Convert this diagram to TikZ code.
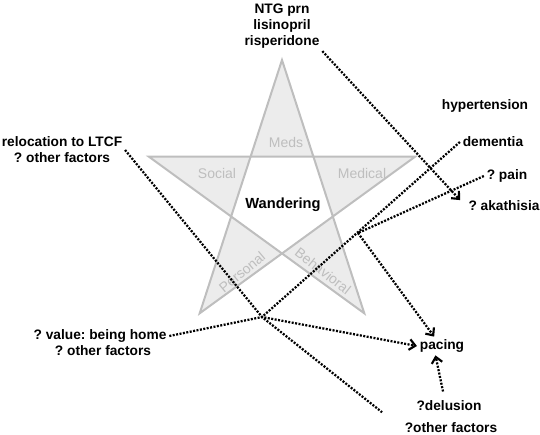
\documentclass[tikz,border=0pt]{standalone}
\usepackage{fontspec}
\setmainfont{Liberation Sans}
\usetikzlibrary{arrows.meta}
\definecolor{starfill}{HTML}{ECECEC}
\definecolor{starline}{HTML}{BEBEBE}
\frenchspacing
\begin{document}
\begin{tikzpicture}[x=0.75pt,y=-0.75pt,
    factor/.style={font=\bfseries\fontsize{10.3}{12}\selectfont,inner sep=2pt},
    part/.style={text=starline,font=\fontsize{10.5}{12}\selectfont},
    link/.style={line width=1.7pt,dash pattern=on 1.5pt off 1.1pt},
    cause/.style={link,-{Straight Barb[length=4.5pt,width=8pt,line width=1.6pt]}}]
  \useasboundingbox (0,0) rectangle (540,435);
  % the star
  \draw[starline,fill=starfill,line width=1.5pt,even odd rule]
    (282,60) -- (199.7,313.3) -- (415.1,156.7) -- (148.9,156.7) -- (364.3,313.3) -- cycle;
  \node[part] (meds) at (286,142) {Meds};
  \node[part] (social) at (217,173) {Social};
  \node[part] (medical) at (362,173) {Medical};
  \node[part,rotate=40] (personal) at (242,272) {Personal};
  \node[part,rotate=-38] (behavioral) at (323,271) {Behavioral};
  \node[font=\bfseries\fontsize{11}{13}\selectfont] (wandering) at (283,205) {Wandering};
  % factors
  \node[factor,align=center] (medlist) at (282,26) {NTG prn\\lisinopril\\risperidone};
  \node[factor] (hyper) at (485,106) {hypertension};
  \node[factor] (dementia) at (493,142) {dementia};
  \node[factor] (pain) at (507,176) {? pain};
  \node[factor] (akathisia) at (504,206) {? akathisia};
  \node[factor,align=center] (reloc) at (62,150) {relocation to LTCF\\? other factors};
  \node[factor] (value) at (100,336) {? value: being home};
  \node[factor] (value2) at (103,351) {? other factors};
  \node[factor] (pacing) at (442,346) {pacing};
  \node[factor] (delusion) at (449,406) {?delusion};
  \node[factor] (otherf) at (451,428) {?other factors};
  \coordinate (j1) at (358,233);
  \coordinate (j2) at (262,317);
  % links
  \draw[cause,shorten >=6pt] (medlist.south east) -- (akathisia.west);
  \draw[link] (dementia.west) -- (j2);
  \draw[link] (pain.west) -- (j1);
  \draw[cause] (j1) -- (pacing.130);
  \draw[link,shorten >=19pt] (reloc.east) -- (j2) -- (otherf.west);
  \draw[cause] (value.east) -- (j2) -- (pacing.west);
  \draw[cause,shorten <=5pt] (delusion.120) -- (pacing.235);
\end{tikzpicture}
\end{document}
